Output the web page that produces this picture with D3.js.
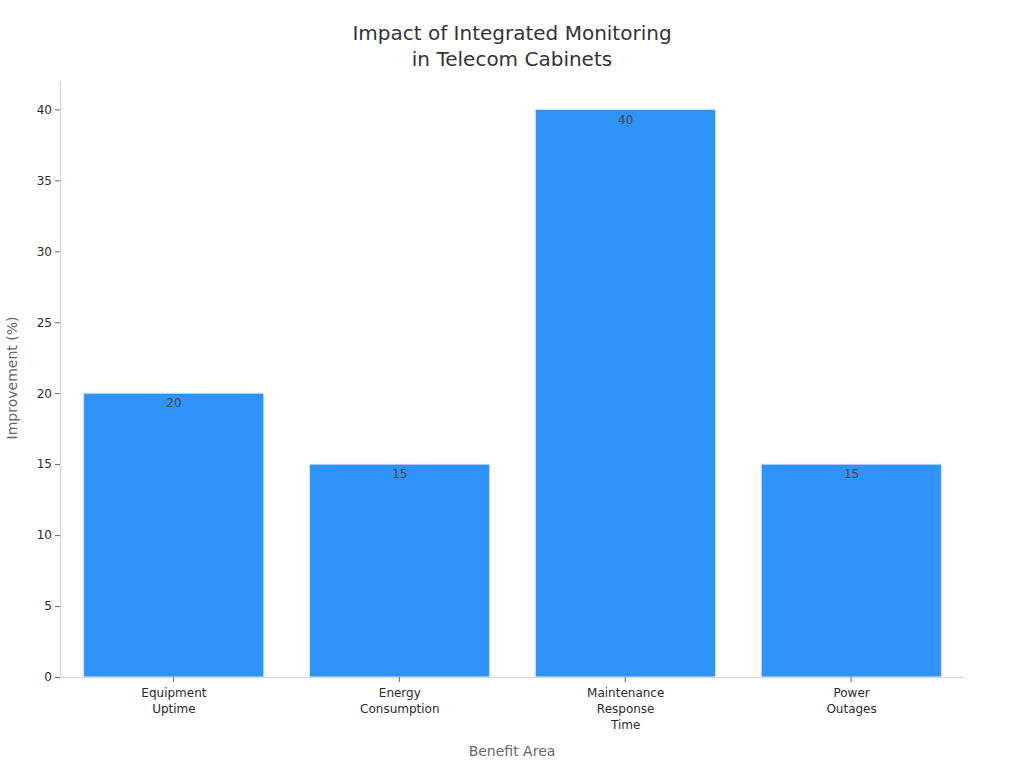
<!DOCTYPE html>
<html>
<head>
<meta charset="utf-8">
<script src="https://cdn.jsdelivr.net/npm/d3@7.9.0/dist/d3.min.js"></script>
<style>
  html, body { margin: 0; background: #fff; }
  text { font-family: "DejaVu Sans", sans-serif; }
</style>
</head>
<body>
<div id="chart"></div>
<script>
/* chart data */
const titleLines = ['Impact of Integrated Monitoring', 'in Telecom Cabinets'];
const categories = [
  ['Equipment', 'Uptime'],
  ['Energy', 'Consumption'],
  ['Maintenance', 'Response', 'Time'],
  ['Power', 'Outages']
];
const values = [20, 15, 40, 15];
const yTicks = [0, 5, 10, 15, 20, 25, 30, 35, 40];

const width = 1024, height = 768;
const margin = { top: 81, right: 60, bottom: 91, left: 60 };

const svg = d3.select('#chart').append('svg')
  .attr('width', width)
  .attr('height', height)
  .style('display', 'block');

/* scales */
const x = d3.scaleBand()
  .domain(d3.range(categories.length))
  .range([margin.left + 0.5, width - margin.right])
  .paddingInner(0.2)
  .paddingOuter(0.1);

const y = d3.scaleLinear()
  .domain([0, 42])
  .range([height - margin.bottom, margin.top]);

/* title */
svg.append('g').selectAll('text')
  .data(titleLines)
  .join('text')
  .attr('x', 512)
  .attr('y', (d, i) => 40 + i * 26)
  .attr('text-anchor', 'middle')
  .attr('font-size', 20)
  .attr('fill', '#333')
  .text(d => d);

/* bars */
svg.append('g').selectAll('rect')
  .data(values)
  .join('rect')
  .attr('x', (d, i) => x(i) + 0.5)
  .attr('y', d => y(d))
  .attr('width', x.bandwidth() - 0.5)
  .attr('height', d => y(0) - y(d))
  .attr('fill', '#2e93fa')
  .attr('stroke', '#d6e8fa')
  .attr('stroke-width', 1);

/* value labels */
svg.append('g').selectAll('text')
  .data(values)
  .join('text')
  .attr('x', (d, i) => x(i) + x.bandwidth() / 2 + 0.5)
  .attr('y', d => y(d) + 14.25)
  .attr('text-anchor', 'middle')
  .attr('font-size', 12)
  .attr('fill', '#444')
  .text(d => d);

/* y axis */
const yAxis = svg.append('g')
  .attr('transform', `translate(${margin.left},0)`)
  .call(d3.axisLeft(y).tickValues(yTicks).tickSize(5).tickSizeOuter(0).tickPadding(3));
yAxis.select('.domain').attr('stroke', '#d5d5d5').attr('stroke-width', 1.2);
yAxis.selectAll('.tick line').attr('stroke', '#666');
yAxis.selectAll('.tick text')
  .attr('font-size', 12)
  .attr('font-family', '"DejaVu Sans", sans-serif')
  .attr('fill', '#2a2a2a');

/* x axis */
const xAxis = svg.append('g')
  .attr('transform', `translate(0,${y(0)})`)
  .call(d3.axisBottom(x).tickSize(5).tickSizeOuter(0).tickFormat(''));
xAxis.select('.domain').attr('stroke', '#d5d5d5').attr('stroke-width', 1.2);
xAxis.selectAll('.tick line').attr('stroke', '#666');

const xLabels = svg.append('g').selectAll('text')
  .data(categories)
  .join('text')
  .attr('text-anchor', 'middle')
  .attr('font-size', 12)
  .attr('fill', '#2a2a2a');
xLabels.selectAll('tspan')
  .data((d, i) => d.map(t => ({ t, i })))
  .join('tspan')
  .attr('x', d => x(d.i) + x.bandwidth() / 2 + 0.5)
  .attr('y', (d, j) => y(0) + 20 + j * 16)
  .text(d => d.t);

/* axis titles */
svg.append('text')
  .attr('x', 512)
  .attr('y', 756)
  .attr('text-anchor', 'middle')
  .attr('font-size', 14)
  .attr('fill', '#666')
  .text('Benefit Area');

svg.append('text')
  .attr('transform', 'translate(17,378) rotate(-90)')
  .attr('text-anchor', 'middle')
  .attr('font-size', 14)
  .attr('fill', '#666')
  .text('Improvement (%)');
</script>
</body>
</html>
